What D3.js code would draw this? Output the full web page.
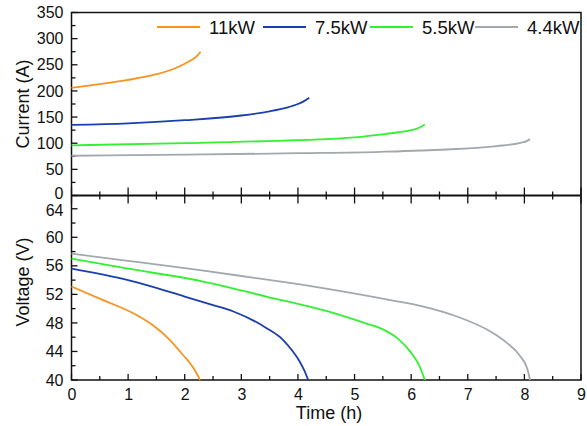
<!DOCTYPE html>
<html>
<head>
<meta charset="utf-8">
<title>Current / Voltage vs Time</title>
<script src="https://cdn.jsdelivr.net/npm/d3@7"></script>
<style>
  body { margin: 0; background: #fff; }
  svg text { font-family: "Liberation Sans", Arial, sans-serif; fill: #111; }
</style>
</head>
<body>
<svg id="chart" width="587" height="426"></svg>
<script>
// series
const seriesNames = ["11kW", "7.5kW", "5.5kW", "4.4kW"];
const seriesColors = ["#f7931e", "#1b3fae", "#33f033", "#a2a8ae"];

const tCur11 = [0, 0.5, 1, 1.5, 1.8, 2.0, 2.1, 2.2, 2.28];
const iCur11 = [206, 213, 221, 232, 242, 252, 258, 265, 275];
const tCur75 = [0, 1, 2, 3, 3.5, 3.8, 4.0, 4.1, 4.2];
const iCur75 = [135, 138, 144, 153, 161, 168, 175, 180, 187];
const tCur55 = [0, 2, 4, 5, 5.45, 5.75, 6.04, 6.15, 6.24];
const iCur55 = [96, 100, 106, 111, 116.5, 120.5, 126, 130, 136];
const tCur44 = [0, 2, 4, 5.45, 6.63, 7.51, 7.93, 8.05, 8.1];
const iCur44 = [76, 78, 81, 83.6, 88, 94.4, 100.7, 104.5, 108];

const tVol11 = [0, 0.56, 1.15, 1.45, 1.74, 1.98, 2.07, 2.16, 2.27];
const vVol11 = [53.1, 51.2, 49.1, 47.6, 45.6, 43.4, 42.6, 41.6, 40];
const tVol75 = [0, 1, 2, 2.5, 2.86, 3.44, 3.74, 3.91, 4.03, 4.12, 4.18];
const vVol75 = [55.6, 54.0, 51.7, 50.5, 49.6, 47.3, 45.6, 44.0, 42.6, 41.2, 40];
const tVol55 = [0, 1, 2.27, 3.44, 4.62, 5.21, 5.5, 5.75, 6.0, 6.15, 6.24];
const vVol55 = [57.0, 55.6, 53.9, 51.7, 49.4, 47.9, 47.1, 45.9, 43.8, 41.9, 40];
const tVol44 = [0, 1, 2.27, 3.33, 3.95, 5.63, 6.22, 6.81, 7.4, 7.69, 7.93, 8.05, 8.1];
const vVol44 = [57.7, 56.7, 55.4, 54.2, 53.5, 51.2, 50.3, 48.9, 46.8, 45.2, 43.3, 41.6, 40];

const timeTicks = [0, 1, 2, 3, 4, 5, 6, 7, 8, 9];
const currentTicks = [0, 50, 100, 150, 200, 250, 300, 350];
const voltageTicks = [40, 44, 48, 52, 56, 60, 64];

const curData = [[tCur11, iCur11], [tCur75, iCur75], [tCur55, iCur55], [tCur44, iCur44]];
const volData = [[tVol11, vVol11], [tVol75, vVol75], [tVol55, vVol55], [tVol44, vVol44]];

const svg = d3.select("#chart");
const pLeft = 71.5, pRight = 581, pTop = 12.5, pMid = 195.5, pBottom = 380;

const x = d3.scaleLinear().domain([0, 9]).range([pLeft, pRight]);
const yCur = d3.scaleLinear().domain([0, 350]).range([pMid, pTop]);
const yVol = d3.scaleLinear().domain([40, 65.86]).range([pBottom, pMid]);

function zip(p) { return p[0].map((t, i) => [t, p[1][i]]); }

// left axes, ticks inside
function leftAxis(scale, ticks, minorTicks, nudge) {
  const g = svg.append("g").attr("transform", `translate(${pLeft},0)`);
  g.call(d3.axisLeft(scale).tickValues(ticks).tickSize(0).tickPadding(8))
    .call(a => a.select(".domain").remove())
    .call(a => a.selectAll("text").style("font-size", "16px").attr("dy", d => nudge(d)));
  g.selectAll("line.maj").data(ticks).enter().append("line")
    .attr("x1", 0).attr("x2", 6).attr("y1", d => scale(d)).attr("y2", d => scale(d))
    .attr("stroke", "#111").attr("stroke-width", 1.3);
  g.selectAll("line.min").data(minorTicks).enter().append("line")
    .attr("x1", 0).attr("x2", 4).attr("y1", d => scale(d)).attr("y2", d => scale(d))
    .attr("stroke", "#111").attr("stroke-width", 1.3);
}
// the "0" and "64" labels sit close together at the divider
leftAxis(yCur, currentTicks, d3.range(25, 350, 50), d => d === 0 ? "0.2em" : "0.32em");
leftAxis(yVol, voltageTicks, d3.range(42, 66, 4), d => d === 64 ? "0.42em" : "0.32em");

// bottom axis labels
svg.append("g").attr("transform", `translate(0,${pBottom})`)
  .call(d3.axisBottom(x).tickValues(timeTicks).tickSize(0).tickPadding(9))
  .call(a => a.select(".domain").remove())
  .call(a => a.selectAll("text").style("font-size", "16px"));

const minorX = d3.range(0.5, 9, 1);
// bottom ticks inside
svg.selectAll("line.bmaj").data(timeTicks).enter().append("line")
  .attr("x1", d => x(d)).attr("x2", d => x(d)).attr("y1", pBottom).attr("y2", pBottom - 6)
  .attr("stroke", "#111").attr("stroke-width", 1.3);
svg.selectAll("line.bmin").data(minorX).enter().append("line")
  .attr("x1", d => x(d)).attr("x2", d => x(d)).attr("y1", pBottom).attr("y2", pBottom - 4)
  .attr("stroke", "#111").attr("stroke-width", 1.3);
// middle ticks crossing the divider
svg.selectAll("line.mmaj").data(timeTicks).enter().append("line")
  .attr("x1", d => x(d)).attr("x2", d => x(d)).attr("y1", pMid - 8).attr("y2", pMid + 8)
  .attr("stroke", "#111").attr("stroke-width", 1.3);
svg.selectAll("line.mmin").data(minorX).enter().append("line")
  .attr("x1", d => x(d)).attr("x2", d => x(d)).attr("y1", pMid - 4).attr("y2", pMid + 4)
  .attr("stroke", "#111").attr("stroke-width", 1.3);

// frame
svg.append("rect").attr("x", pLeft).attr("y", pTop).attr("width", pRight - pLeft).attr("height", pBottom - pTop)
  .attr("fill", "none").attr("stroke", "#111").attr("stroke-width", 1.5);
svg.append("line").attr("x1", pLeft).attr("x2", pRight).attr("y1", pMid).attr("y2", pMid)
  .attr("stroke", "#111").attr("stroke-width", 2);

// curves
const lineCur = d3.line().x(d => x(d[0])).y(d => yCur(d[1])).curve(d3.curveMonotoneX);
const lineVol = d3.line().x(d => x(d[0])).y(d => yVol(d[1])).curve(d3.curveMonotoneX);
curData.forEach((p, i) => svg.append("path").attr("d", lineCur(zip(p)))
  .attr("fill", "none").attr("stroke", seriesColors[i]).attr("stroke-width", 1.8));
volData.forEach((p, i) => svg.append("path").attr("d", lineVol(zip(p)))
  .attr("fill", "none").attr("stroke", seriesColors[i]).attr("stroke-width", 1.8));

// legend
const legendX = [157, 263, 370, 475];
const leg = svg.append("g");
seriesNames.forEach((n, i) => {
  leg.append("line").attr("x1", legendX[i]).attr("x2", legendX[i] + 43).attr("y1", 27).attr("y2", 27)
    .attr("stroke", seriesColors[i]).attr("stroke-width", 1.8);
  leg.append("text").attr("x", legendX[i] + 52).attr("y", 33.5).style("font-size", "18.5px").text(n);
});

// axis titles
svg.append("text").attr("transform", "translate(29,104) rotate(-90)").attr("text-anchor", "middle")
  .style("font-size", "18px").text("Current (A)");
svg.append("text").attr("transform", "translate(29,282) rotate(-90)").attr("text-anchor", "middle")
  .style("font-size", "18px").text("Voltage (V)");
svg.append("text").attr("x", 329).attr("y", 419).attr("text-anchor", "middle")
  .style("font-size", "18px").text("Time (h)");
</script>
</body>
</html>
